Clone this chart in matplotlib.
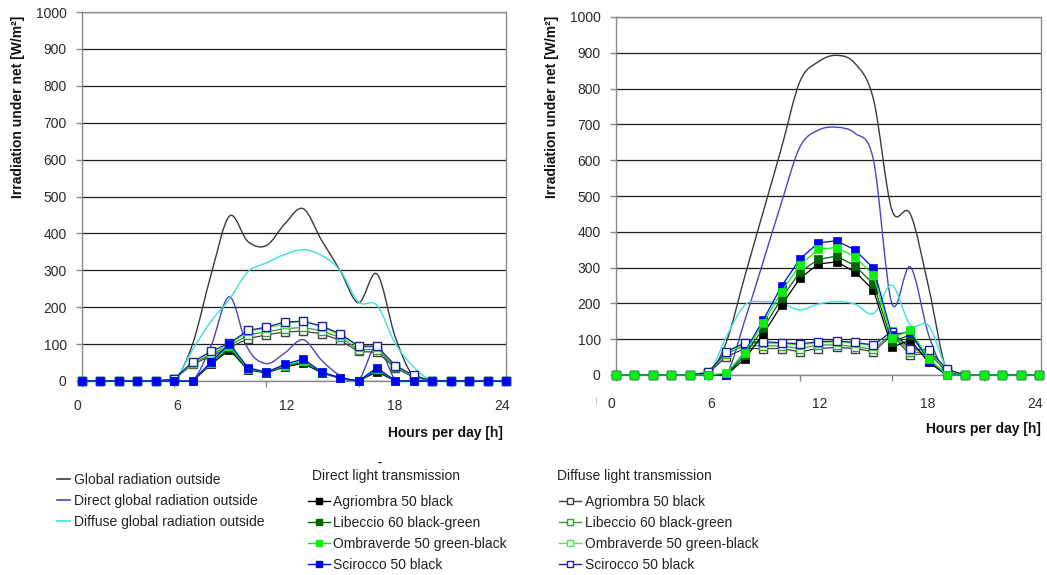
import matplotlib
matplotlib.use("Agg")
import matplotlib.pyplot as plt
from matplotlib.path import Path
from matplotlib.patches import PathPatch
from matplotlib.lines import Line2D
import matplotlib.transforms as mtransforms

plt.rcParams['font.family'] = ['Liberation Sans', 'DejaVu Sans']

# ---------------- data ----------------
hours = list(range(24))
x_tick_pos = [-0.27, 5.15, 11.1, 16.96, 22.8]
x_tick_labels = ['0', '6', '12', '18', '24']
x_minor_ticks = [0, 5, 10, 15, 20]
y_ticks = list(range(0, 1001, 100))

# left chart
L_global  = [0, 0, 0, 0, 0, 0, 100, 288, 447, 378, 367, 426, 467, 381, 300, 212, 290, 118, 10, 0, 0, 0, 0, 0]
L_direct  = [0, 0, 0, 0, 0, 0, 0, 95, 228, 88, 47, 76, 112, 56, 15, 2, 97, 3, 0, 0, 0, 0, 0, 0]
L_diffuse = [0, 0, 0, 0, 0, 0, 85, 162, 222, 296, 320, 343, 356, 340, 300, 214, 205, 101, 38, 0, 0, 0, 0, 0]

L_agri_dir = [0, 0, 0, 0, 0, 0, 0, 45, 85, 30, 22, 38, 48, 22, 7, 0, 25, 0, 0, 0, 0, 0, 0, 0]
L_libe_dir = [0, 0, 0, 0, 0, 0, 0, 48, 90, 32, 23, 40, 52, 23, 8, 0, 30, 0, 0, 0, 0, 0, 0, 0]
L_ombr_dir = [0, 0, 0, 0, 0, 0, 0, 50, 95, 33, 24, 42, 55, 24, 8, 0, 33, 0, 0, 0, 0, 0, 0, 0]
L_scir_dir = [0, 0, 0, 0, 0, 0, 0, 52, 101, 36, 24, 45, 60, 24, 9, 0, 36, 0, 0, 0, 0, 0, 0, 0]

L_agri_dif = [0, 0, 0, 0, 0, 5, 45, 68, 90, 115, 125, 133, 135, 128, 110, 80, 78, 35, 10, 0, 0, 0, 0, 0]
L_libe_dif = [0, 0, 0, 0, 0, 5, 48, 72, 95, 125, 133, 142, 145, 136, 118, 85, 85, 38, 12, 0, 0, 0, 0, 0]
L_ombr_dif = [0, 0, 0, 0, 0, 5, 50, 75, 98, 135, 143, 155, 163, 147, 125, 92, 92, 40, 14, 0, 0, 0, 0, 0]
L_scir_dif = [0, 0, 0, 0, 0, 5, 52, 80, 103, 137, 146, 160, 162, 149, 128, 95, 94, 42, 15, 0, 0, 0, 0, 0]

# right chart
R_global  = [0, 0, 0, 0, 0, 0, 92, 275, 455, 635, 820, 875, 893, 870, 770, 461, 450, 245, 8, 0, 0, 0, 0, 0]
R_direct  = [0, 0, 0, 0, 0, 0, 0, 152, 316, 482, 637, 684, 692, 675, 600, 200, 302, 112, 0, 0, 0, 0, 0, 0]
R_diffuse = [0, 0, 0, 0, 0, 0, 107, 195, 205, 200, 182, 198, 205, 198, 172, 251, 140, 138, 18, 0, 0, 0, 0, 0]

R_agri_dir = [0, 0, 0, 0, 0, 0, 0, 45, 114, 195, 270, 310, 316, 288, 237, 77, 98, 35, 0, 0, 0, 0, 0, 0]
R_libe_dir = [0, 0, 0, 0, 0, 0, 0, 55, 130, 214, 288, 323, 332, 305, 254, 93, 112, 45, 0, 0, 0, 0, 0, 0]
R_ombr_dir = [0, 0, 0, 0, 0, 0, 5, 62, 144, 233, 307, 351, 356, 330, 279, 102, 126, 45, 0, 0, 0, 0, 0, 0]
R_scir_dir = [0, 0, 0, 0, 0, 0, 0, 65, 153, 248, 324, 369, 375, 349, 298, 112, 121, 40, 0, 0, 0, 0, 0, 0]

R_agri_dif = [0, 0, 0, 0, 0, 5, 51, 74, 74, 74, 65, 74, 77, 74, 65, 112, 56, 60, 9, 0, 0, 0, 0, 0]
R_libe_dif = [0, 0, 0, 0, 0, 6, 59, 82, 82, 81, 74, 84, 84, 79, 72, 116, 65, 60, 12, 0, 0, 0, 0, 0]
R_ombr_dif = [0, 0, 0, 0, 0, 9, 62, 88, 88, 88, 84, 90, 93, 88, 82, 124, 70, 65, 14, 0, 0, 0, 0, 0]
R_scir_dif = [0, 0, 0, 0, 0, 7, 65, 90, 93, 90, 87, 93, 95, 91, 84, 121, 74, 70, 16, 0, 0, 0, 0, 0]

outside_labels = ['Global radiation outside', 'Direct global radiation outside',
                  'Diffuse global radiation outside']
net_labels = ['Agriombra 50 black', 'Libeccio 60 black-green',
              'Ombraverde 50 green-black', 'Scirocco 50 black']
direct_header = 'Direct light transmission'
diffuse_header = 'Diffuse light transmission'
ylabel = 'Irradiation under net [W/m²]'
xlabel = 'Hours per day [h]'

# ---------------- styles ----------------
outside_colors = ['#3a3a3a', '#4646c4', '#3fdede']
filled_colors = ['#000000', '#006400', '#10ee10', '#0000ff']
hollow_colors = ['#404040', '#3a993a', '#48ee48', '#2020a8']

W, H = 1047, 575
fig = plt.figure(figsize=(W / 100, H / 100), dpi=100)


def px_axes(left, top, right, bottom):
    return fig.add_axes([left / W, 1 - bottom / H, (right - left) / W, (bottom - top) / H])


def smooth_path(x, y):
    # Bezier spline through the data points (Excel-style smoothed line)
    verts = [(x[0], y[0])]
    codes = [Path.MOVETO]
    n = len(x)
    for i in range(n - 1):
        xa, ya = x[max(i - 1, 0)], y[max(i - 1, 0)]
        xb, yb = x[min(i + 2, n - 1)], y[min(i + 2, n - 1)]
        c1 = (x[i] + (x[i + 1] - xa) / 6.0, y[i] + (y[i + 1] - ya) / 6.0)
        c2 = (x[i + 1] - (xb - x[i]) / 6.0, y[i + 1] - (yb - y[i]) / 6.0)
        verts += [c1, c2, (x[i + 1], y[i + 1])]
        codes += [Path.CURVE4] * 3
    return Path(verts, codes)


def draw_panel(ax, outside, dirs, difs, dir_order, xmax, tick_y, xlabel_y, xlabel_x):
    ax.set_xlim(0, xmax)
    ax.set_ylim(0, 1000)
    ax.set_yticks(y_ticks)
    ax.set_xticks(x_minor_ticks)
    ax.set_xticklabels([])
    ax.tick_params(axis='x', length=4, color='#8a8a8a', width=1)
    ax.tick_params(axis='y', length=4, color='#8a8a8a', width=1, pad=7,
                   labelsize=10, labelcolor='#2a2a2a')
    ax.yaxis.grid(True, color='#1e1e1e', lw=0.9)
    ax.set_axisbelow(True)
    for s in ax.spines.values():
        s.set_color('#8a8a8a')
        s.set_linewidth(1)
    # outside radiation: smoothed lines
    for vals, col in zip(outside, outside_colors):
        ax.add_patch(PathPatch(smooth_path(hours, vals), facecolor='none',
                               edgecolor=col, lw=1.0, zorder=2))
    # diffuse transmission (hollow squares)
    for vals, col in zip(difs, hollow_colors):
        ax.plot(hours, vals, color=col, lw=0.9, marker='s', ms=5.2,
                mfc='white', mec=col, mew=1.0, zorder=3, clip_on=False)
    # direct transmission (filled squares)
    for k in dir_order:
        ax.plot(hours, dirs[k], color=filled_colors[k], lw=0.9, marker='s', ms=5.2,
                mfc=filled_colors[k], mec=filled_colors[k], mew=0.5, zorder=4, clip_on=False)
    # x tick labels
    trans = mtransforms.blended_transform_factory(ax.transData, ax.transAxes)
    for p, lab in zip(x_tick_pos, x_tick_labels):
        ax.text(p, tick_y, lab, transform=trans, ha='center', va='baseline',
                fontsize=10, color='#2a2a2a', clip_on=False)
    ax.text(xlabel_x, xlabel_y, xlabel, transform=ax.transAxes, ha='right',
            va='baseline', fontsize=10, fontweight='bold', color='#111111')


axL = px_axes(82, 12, 506, 381)
draw_panel(axL, [L_global, L_direct, L_diffuse],
           [L_agri_dir, L_libe_dir, L_ombr_dir, L_scir_dir],
           [L_agri_dif, L_libe_dif, L_ombr_dif, L_scir_dif],
           [0, 1, 2, 3], 23, -(410 - 381) / 369, -(437 - 381) / 369, 1 - 3 / 424)

axR = px_axes(616, 17, 1041, 375)
draw_panel(axR, [R_global, R_direct, R_diffuse],
           [R_agri_dir, R_libe_dir, R_ombr_dir, R_scir_dir],
           [R_agri_dif, R_libe_dif, R_ombr_dif, R_scir_dif],
           [0, 1, 3, 2], 23 + 2 / 18.4, -(408 - 375) / 358, -(433 - 375) / 358, 1.0)

# y labels
fig.text(18 / W, 1 - 107 / H, ylabel, rotation=90, ha='center', va='center',
         fontsize=10, fontweight='bold', color='#111111')
fig.text(552 / W, 1 - 107 / H, ylabel, rotation=90, ha='center', va='center',
         fontsize=10, fontweight='bold', color='#111111')

# ---------------- legends ----------------
h_out = [Line2D([], [], color=c, lw=1.2) for c in outside_colors]
h_dir = [Line2D([], [], color=c, lw=1.0, marker='s', ms=5, mfc=c, mec=c) for c in filled_colors]
h_dif = [Line2D([], [], color=c, lw=1.0, marker='s', ms=5, mfc='white', mec=c) for c in hollow_colors]

common = dict(frameon=False, fontsize=10, borderpad=0, borderaxespad=0,
              labelspacing=0.51, handleheight=0.7, labelcolor='#222222')
fig.legend(h_out, outside_labels, loc='upper left',
           bbox_to_anchor=(57 / W, 1 - 473 / H), handlelength=0.9, handletextpad=0.3, **common)
fig.legend(h_dir, net_labels, loc='upper left',
           bbox_to_anchor=(308 / W, 1 - 495 / H), handlelength=1.6, handletextpad=0.22, **common)
fig.legend(h_dif, net_labels, loc='upper left',
           bbox_to_anchor=(559 / W, 1 - 495 / H), handlelength=1.6, handletextpad=0.28, **common)
fig.text(312 / W, 1 - 476 / H, direct_header, ha='left', va='center', fontsize=10, color='#222222')
fig.text(557 / W, 1 - 476 / H, diffuse_header, ha='left', va='center', fontsize=10, color='#222222')

# small stray marks visible in the original
fig.text(380 / W, 1 - 463 / H, '-', ha='center', va='center', fontsize=9,
         fontweight='bold', color='#111111')
fig.text(597 / W, 1 - 403 / H, '!', ha='center', va='center', fontsize=8, color='#bbbbbb')

fig.savefig('out.png', dpi=100)
